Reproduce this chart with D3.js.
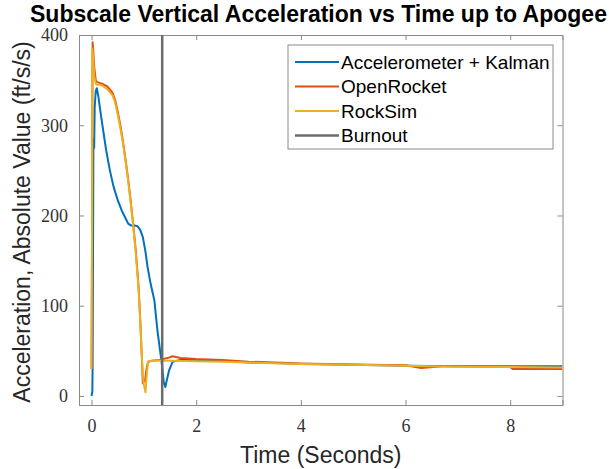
<!DOCTYPE html>
<html>
<head>
<meta charset="utf-8">
<script src="https://cdn.jsdelivr.net/npm/d3@7"></script>
<style>
  html, body { margin: 0; padding: 0; background: #fff; }
  svg { display: block; }
</style>
</head>
<body>
<svg id="chart" width="609" height="469"></svg>
<script>
// ---- data ----
const kalmanT = [0, 0.015, 0.02, 0.035, 0.045, 0.05, 0.06, 0.08, 0.1, 0.13, 0.17, 0.22, 0.28, 0.35, 0.42, 0.5, 0.58, 0.65, 0.7, 0.75, 0.82, 0.88, 0.93, 0.98, 1.03, 1.07, 1.13, 1.2, 1.26, 1.31, 1.35, 1.38, 1.41, 1.44, 1.48, 1.55, 1.7, 2.0, 2.5, 3.0, 3.5, 4.0, 5.0, 6.0, 7.0, 8.0, 9.0];
const kalmanV = [0, 5, 30, 270, 285, 275, 320, 338, 341, 332, 315, 295, 272, 250, 232, 217, 205, 197, 191, 189, 189, 188, 184, 176, 160, 143, 124, 106, 72, 50, 32, 15, 10, 18, 28, 38, 40, 40, 39, 37, 36.5, 35.5, 34.5, 33.5, 33, 33, 33];

const openRocketT = [0, 0.01, 0.02, 0.03, 0.05, 0.08, 0.1, 0.15, 0.2, 0.3, 0.4, 0.45, 0.5, 0.55, 0.6, 0.65, 0.7, 0.75, 0.8, 0.85, 0.9, 0.93, 0.96, 0.98, 1.0, 1.02, 1.05, 1.08, 1.15, 1.3, 1.45, 1.55, 1.7, 2.0, 2.5, 3.0, 4.0, 5.0, 6.0, 6.3, 6.7, 7.0, 8.0, 8.05, 9.0];
const openRocketV = [30, 200, 392, 385, 365, 350, 348, 347, 346, 343, 336, 328, 315, 300, 282, 262, 240, 215, 188, 158, 120, 85, 45, 14, 18, 16, 30, 38, 39, 40, 42, 44, 42, 41, 40, 38, 36, 35, 34, 31, 33, 33, 32, 30, 30];

const rockSimT = [0, 0.01, 0.015, 0.03, 0.05, 0.08, 0.1, 0.15, 0.2, 0.3, 0.4, 0.45, 0.5, 0.55, 0.6, 0.65, 0.7, 0.75, 0.8, 0.85, 0.9, 0.93, 0.96, 0.98, 1.0, 1.03, 1.05, 1.08, 1.15, 1.3, 1.5, 2.0, 2.5, 3.0, 4.0, 5.0, 6.0, 7.0, 8.0, 9.0];
const rockSimV = [30, 200, 385, 375, 355, 346, 345, 345, 344, 340, 333, 325, 312, 297, 280, 260, 238, 213, 186, 155, 117, 82, 45, 25, 12, 4, 20, 38, 39, 39, 39, 38.5, 38, 37, 35.5, 34.5, 33.5, 32.5, 32, 31.5];

const burnoutTime = 1.35;

const xTicks = [0, 2, 4, 6, 8];
const yTicks = [0, 100, 200, 300, 400];
const seriesNames = ["Accelerometer + Kalman", "OpenRocket", "RockSim", "Burnout"];
const seriesColors = ["#0072BD", "#D95319", "#EDB120", "#6b6b6b"];

const titleText = "Subscale Vertical Acceleration vs Time up to Apogee";
const xLabel = "Time (Seconds)";
const yLabel = "Acceleration, Absolute Value (ft/s/s)";

// ---- layout ----
const svg = d3.select("#chart");
const L = 79, R = 562.5, T = 35, B = 405;
const x = d3.scaleLinear().domain([-0.24, 9]).range([L, R]);
const y = d3.scaleLinear().domain([-10, 400]).range([B, T]);

const axisColor = "#8a8a8a";
const tickFont = "'Liberation Serif', 'Times New Roman', serif";
const sansFont = "'Liberation Sans', Arial, Helvetica, sans-serif";

const xAxisB = d3.axisBottom(x).tickValues(xTicks).tickSize(-5).tickPadding(14).tickFormat(d3.format("d"));
const xAxisT = d3.axisTop(x).tickValues(xTicks).tickSize(-5).tickFormat("");
const yAxisL = d3.axisLeft(y).tickValues(yTicks).tickSize(-5).tickPadding(11).tickFormat(d3.format("d"));
const yAxisR = d3.axisRight(y).tickValues(yTicks).tickSize(-5).tickFormat("");

function styleAxis(g) {
  g.select(".domain").attr("stroke", axisColor).attr("stroke-width", 1);
  g.selectAll(".tick line").attr("stroke", axisColor);
  g.selectAll(".tick text").attr("font-family", tickFont).attr("font-size", 18).attr("fill", "#333");
}
svg.append("g").attr("transform", `translate(0,${B})`).call(xAxisB).call(styleAxis);
svg.append("g").attr("transform", `translate(0,${T})`).call(xAxisT).call(styleAxis);
svg.append("g").attr("transform", `translate(${L},0)`).call(yAxisL).call(styleAxis);
svg.append("g").attr("transform", `translate(${R},0)`).call(yAxisR).call(styleAxis);

// clip
svg.append("clipPath").attr("id", "clip").append("rect")
  .attr("x", L).attr("y", T).attr("width", R - L).attr("height", B - T);
const plot = svg.append("g").attr("clip-path", "url(#clip)");

const line = d3.line().x(d => x(d[0])).y(d => y(d[1]));
const series = [
  [kalmanT, kalmanV],
  [openRocketT, openRocketV],
  [rockSimT, rockSimV]
];
series.forEach((s, i) => {
  const pts = s[0].map((t, k) => [t, s[1][k]]);
  plot.append("path").datum(pts).attr("d", line)
    .attr("fill", "none").attr("stroke", seriesColors[i]).attr("stroke-width", 2)
    .attr("stroke-linejoin", "round");
});
// burnout
plot.append("line").attr("x1", x(burnoutTime)).attr("x2", x(burnoutTime))
  .attr("y1", T).attr("y2", B).attr("stroke", seriesColors[3]).attr("stroke-width", 2.5);

// title + labels
svg.append("text").attr("x", 318.5).attr("y", 22).attr("text-anchor", "middle")
  .attr("font-family", sansFont).attr("font-weight", "bold").attr("font-size", 23).attr("fill", "#000")
  .text(titleText);
svg.append("text").attr("x", (L + R) / 2).attr("y", 463).attr("text-anchor", "middle")
  .attr("font-family", sansFont).attr("font-size", 23).attr("fill", "#262626").text(xLabel);
svg.append("text").attr("transform", `translate(30,${(T + B) / 2 + 2}) rotate(-90)`).attr("text-anchor", "middle")
  .attr("font-family", sansFont).attr("font-size", 23).attr("fill", "#262626").text(yLabel);

// legend
const lg = svg.append("g");
const lx = 288, ly = 45, lw = 265, lh = 104;
lg.append("rect").attr("x", lx).attr("y", ly).attr("width", lw).attr("height", lh)
  .attr("fill", "#fff").attr("stroke", axisColor).attr("stroke-width", 1);
seriesNames.forEach((n, i) => {
  const cy = ly + 17 + i * 24.5;
  lg.append("line").attr("x1", lx + 7).attr("x2", lx + 51).attr("y1", cy).attr("y2", cy)
    .attr("stroke", seriesColors[i]).attr("stroke-width", i === 3 ? 2.5 : 2);
  lg.append("text").attr("x", lx + 53).attr("y", cy + 6.5)
    .attr("font-family", sansFont).attr("font-size", 19).attr("fill", "#000").text(n);
});
</script>
</body>
</html>
